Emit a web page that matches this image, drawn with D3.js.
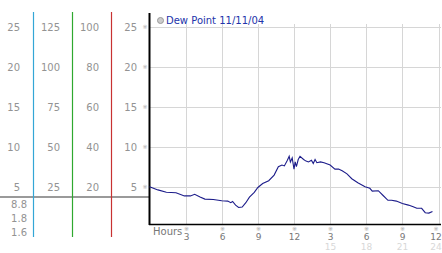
<!DOCTYPE html>
<html>
<head>
<meta charset="utf-8">
<script src="https://cdn.jsdelivr.net/npm/d3@7"></script>
<style>
  body { margin: 0; background: #fff; }
  svg { display: block; font-family: "DejaVu Sans", Verdana, sans-serif; }
</style>
</head>
<body>
<div id="chart"></div>
<script>
// dew point readings, hour of day -> value
const hours = [0, 0.7, 1.4, 2.2, 2.9, 3.4, 3.75, 4.2, 4.6, 5.3, 6, 6.5, 6.75, 6.9, 7.15, 7.4, 7.7, 8.0, 8.3, 8.7, 9.0,
  9.4, 9.9, 10.35, 10.7, 11.0, 11.2, 11.45, 11.6, 11.7, 11.85, 12.0, 12.1, 12.2, 12.35, 12.5, 12.8, 13.0, 13.2,
  13.45, 13.6, 13.75, 13.9, 14.2, 14.5, 15.0, 15.4, 15.7, 16.0, 16.4, 16.8, 17.3, 17.9, 18.3, 18.5, 19.0, 19.4,
  19.8, 20.1, 20.5, 21.0, 21.5, 21.9, 22.2, 22.6, 22.9, 23.2, 23.5];
const dewPoint = [5.0, 4.6, 4.3, 4.25, 3.85, 3.85, 4.05, 3.7, 3.45, 3.4, 3.25, 3.2, 3.0, 3.15, 2.7, 2.4, 2.45, 3.0, 3.7, 4.3, 4.9,
  5.4, 5.75, 6.45, 7.5, 7.7, 7.6, 8.3, 8.8, 8.1, 8.6, 7.2, 8.1, 7.5, 8.4, 8.8, 8.4, 8.2, 8.1,
  8.3, 7.9, 8.4, 8.0, 8.1, 8.0, 7.7, 7.2, 7.2, 7.0, 6.6, 6.0, 5.5, 5.0, 4.8, 4.45, 4.5, 3.9,
  3.3, 3.3, 3.2, 2.9, 2.7, 2.5, 2.3, 2.3, 1.75, 1.7, 1.9];

const title = "Dew Point 11/11/04";
const xTicks = [3, 6, 9, 12, 15, 18, 21, 24];
const xTickLabels = ["3", "6", "9", "12", "3", "6", "9", "12"];
const xTickLabels24 = ["", "", "", "", "15", "18", "21", "24"];

// left-hand scale columns
const col1Ticks = [5, 10, 15, 20, 25];
const col2Ticks = [25, 50, 75, 100, 125];
const col3Ticks = [20, 40, 60, 80, 100];
const col4Ticks = [5, 10, 15, 20, 25];
const statLabels = ["8.8", "1.8", "1.6"];
const markerValue = 3.7;

const width = 442, height = 253;

const svg = d3.select("#chart").append("svg")
  .attr("width", width)
  .attr("height", height);

const x = d3.scaleLinear().domain([0, 24]).range([149.5, 438.5]);
const y = d3.scaleLinear().domain([0, 25]).range([226.7, 26.7]);
const y2 = d3.scaleLinear().domain([0, 125]).range([226.7, 26.7]);
const y3 = d3.scaleLinear().domain([0, 100]).range([226.7, 26.7]);

// grid
svg.append("g")
  .selectAll("line")
  .data(xTicks)
  .join("line")
  .attr("x1", d => Math.round(x(d)) + 0.5)
  .attr("x2", d => Math.round(x(d)) + 0.5)
  .attr("y1", 24)
  .attr("y2", 224)
  .attr("stroke", "#d6d6d6");

svg.append("g")
  .selectAll("line")
  .data(col4Ticks)
  .join("line")
  .attr("x1", 149)
  .attr("x2", 441)
  .attr("y1", d => Math.round(y(d)) + 0.5)
  .attr("y2", d => Math.round(y(d)) + 0.5)
  .attr("stroke", "#d6d6d6");

// left value columns
function column(ticks, scale, xRight) {
  svg.append("g")
    .selectAll("text")
    .data(ticks)
    .join("text")
    .attr("x", xRight)
    .attr("y", d => scale(d) + 4)
    .attr("text-anchor", "end")
    .style("font-size", "10px")
    .style("fill", "#939393")
    .text(d => d);
}
column(col1Ticks, y, 20);
column(col2Ticks, y2, 60);
column(col3Ticks, y3, 99);
column(col4Ticks, y, 137);

// little tick glyphs on the left axis
svg.append("g")
  .selectAll("text")
  .data(col4Ticks)
  .join("text")
  .attr("x", 145)
  .attr("y", d => y(d) + 2)
  .attr("text-anchor", "middle")
  .style("font-size", "6px")
  .style("fill", "#aaa")
  .text("※");

// current value marker
svg.append("line")
  .attr("x1", 0).attr("x2", 149)
  .attr("y1", 197).attr("y2", 197)
  .attr("y1", y(markerValue)).attr("y2", y(markerValue))
  .attr("stroke", "#9a9a9a")
  .attr("stroke-width", 2);

svg.append("g")
  .selectAll("text")
  .data(statLabels)
  .join("text")
  .attr("x", 27)
  .attr("y", (d, i) => 208 + i * 14)
  .attr("text-anchor", "end")
  .style("font-size", "10px")
  .style("fill", "#939393")
  .text(d => d);

// coloured scale rules
const rules = [{x: 33.5, c: "#33a6d6"}, {x: 72.5, c: "#2fa82f"}, {x: 111.5, c: "#c83232"}];
svg.append("g")
  .selectAll("line")
  .data(rules)
  .join("line")
  .attr("x1", d => d.x).attr("x2", d => d.x)
  .attr("y1", 12).attr("y2", 237)
  .attr("stroke", d => d.c)
  .attr("stroke-width", 1.2);

// axes
svg.append("line")
  .attr("x1", 149.5).attr("x2", 149.5)
  .attr("y1", 13).attr("y2", 225)
  .attr("stroke", "#000")
  .attr("stroke-width", 2);
svg.append("line")
  .attr("x1", 149).attr("x2", 441)
  .attr("y1", 224.5).attr("y2", 224.5)
  .attr("stroke", "#000")
  .attr("stroke-width", 1.5);

// x labels
svg.append("text")
  .attr("x", 153)
  .attr("y", 235)
  .style("font-size", "10px")
  .style("fill", "#777")
  .text("Hours");

const last = xTicks.length - 1;
const xl = svg.append("g")
  .selectAll("g")
  .data(xTicks)
  .join("g")
  .attr("transform", (d, i) => `translate(${i === last ? 436 : Math.round(x(d)) + 0.5},0)`);
xl.append("text")
  .attr("y", 231)
  .attr("text-anchor", "middle")
  .style("font-size", "6px")
  .style("fill", "#aaa")
  .text("※");
xl.append("text")
  .attr("y", 240)
  .attr("text-anchor", "middle")
  .style("font-size", "9px")
  .style("fill", "#777")
  .text((d, i) => xTickLabels[i]);
xl.append("text")
  .attr("y", 250)
  .attr("text-anchor", "middle")
  .style("font-size", "9px")
  .style("fill", "#d8d8d8")
  .text((d, i) => xTickLabels24[i]);

// data line
const points = hours.map((h, i) => [h, dewPoint[i]]);
svg.append("path")
  .datum(points)
  .attr("fill", "none")
  .attr("stroke", "#1c1c8a")
  .attr("stroke-width", 1.1)
  .attr("d", d3.line().x(d => x(d[0])).y(d => y(d[1])));

// legend / title
svg.append("circle")
  .attr("cx", 160.5).attr("cy", 20.5).attr("r", 3)
  .attr("fill", "#ccc")
  .attr("stroke", "#999");
svg.append("text")
  .attr("x", 166)
  .attr("y", 24)
  .style("font-size", "10px")
  .style("fill", "#2233aa")
  .text(title);
</script>
</body>
</html>
